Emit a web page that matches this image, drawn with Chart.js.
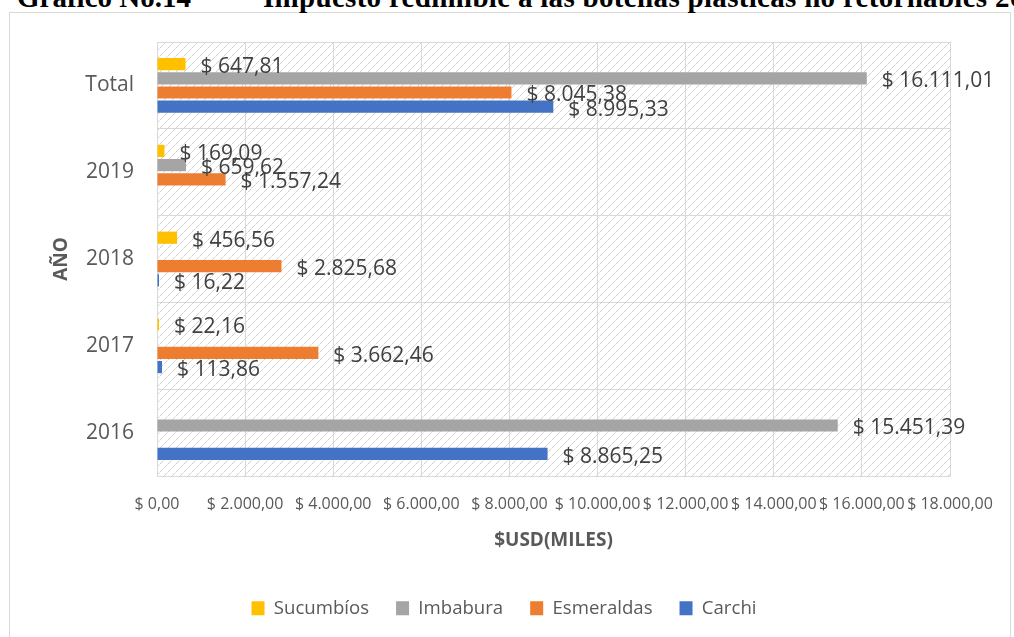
<!DOCTYPE html>
<html><head><meta charset="utf-8">
<script src="https://cdn.jsdelivr.net/npm/chart.js@4/dist/chart.umd.min.js"></script>
<style>
html,body{margin:0;padding:0;background:#fff;overflow:hidden;width:1014px;height:637px;position:relative}
#frame{position:absolute;left:9px;top:12px;width:1000px;height:700px;border:1px solid #d9d9d9;}
.t{position:absolute;top:-17px;font:bold 29px "Liberation Serif";line-height:1;white-space:nowrap;color:#000}
#wrap{position:absolute;left:0;top:0;width:1014px;height:637px}
</style></head><body>
<div id="frame"></div>
<div class="t" style="left:17px">Gráfico No.14</div>
<div class="t" style="left:263px;letter-spacing:0.3px">Impuesto redimible a las botellas plásticas no retornables 2016-2019</div>
<div id="wrap"><canvas id="c" width="1014" height="637"></canvas></div>
<script>
const categories = ['Total', '2019', '2018', '2017', '2016'];
const seriesNames = ['Sucumbíos', 'Imbabura', 'Esmeraldas', 'Carchi'];
const sucumbios  = [647.81, 169.09, 456.56, 22.16, null];
const imbabura   = [16111.01, 659.62, null, null, 15451.39];
const esmeraldas = [8045.38, 1557.24, 2825.68, 3662.46, null];
const carchi     = [8995.33, null, 16.22, 113.86, 8865.25];
const xTickValues = [0, 2000, 4000, 6000, 8000, 10000, 12000, 14000, 16000, 18000];
const colors = ['#FFC000', '#A5A5A5', '#ED7D31', '#4472C4'];

function fmt(v) {
  const s = Number(v).toFixed(2);
  let [i, d] = s.split('.');
  i = i.replace(/\B(?=(\d{3})+(?!\d))/g, '.');
  return '$ ' + i + ',' + d;
}

// hatch pattern for plot area
const tile = document.createElement('canvas');
tile.width = 8; tile.height = 8;
const tc = tile.getContext('2d');
tc.fillStyle = '#ffffff'; tc.fillRect(0, 0, 8, 8);
tc.fillStyle = '#d0d0d0';
for (let k = 0; k < 3; k++) { tc.fillRect(k, 7 - k, 1, 1); tc.fillRect(4 + k, 3 - k, 1, 1); }
tc.fillStyle = '#e6e6e6';
tc.fillRect(3, 4, 1, 1); tc.fillRect(7, 0, 1, 1);
const pattern = tc.createPattern(tile, 'repeat');

const bgPlugin = {
  id: 'bg',
  beforeDraw(chart) {
    const { ctx, chartArea: a } = chart;
    ctx.save();
    ctx.fillStyle = pattern;
    ctx.fillRect(a.left, a.top, a.right - a.left, a.bottom - a.top);
    ctx.restore();
  }
};

const labelPlugin = {
  id: 'vlabels',
  afterDatasetsDraw(chart) {
    const ctx = chart.ctx;
    ctx.save();
    ctx.font = '21px "Open Sans"';
    ctx.fillStyle = '#404040';
    ctx.textAlign = 'left';
    ctx.textBaseline = 'middle';
    chart.data.datasets.forEach((ds, di) => {
      const meta = chart.getDatasetMeta(di);
      meta.data.forEach((el, i) => {
        const v = ds.data[i];
        if (v === null || v === undefined) return;
        ctx.fillText(fmt(v), el.x + 15, el.y + 3);
      });
    });
    ctx.restore();
  }
};

const dataArrays = [sucumbios, imbabura, esmeraldas, carchi];
new Chart(document.getElementById('c'), {
  type: 'bar',
  data: {
    labels: categories,
    datasets: dataArrays.map((d, k) => ({
      label: seriesNames[k],
      data: d,
      backgroundColor: colors[k],
      borderWidth: 0,
      minBarLength: 2,
      categoryPercentage: 0.654,
      barPercentage: 0.86
    }))
  },
  options: {
    indexAxis: 'y',
    responsive: false,
    animation: false,
    layout: { padding: { top: 42, left: 58, right: 64, bottom: 9.4 } },
    scales: {
      x: {
        min: 0, max: 18000,
        afterBuildTicks: s => { s.ticks = xTickValues.map(v => ({ value: v })); },
        grid: { color: '#d9d9d9', drawTicks: false },
        border: { color: '#d9d9d9' },
        ticks: { autoSkip: false, maxRotation: 0, minRotation: 0, padding: 19, color: '#595959',
                 font: { family: 'Open Sans', size: 16 }, callback: v => fmt(v) },
        title: { display: true, text: '$USD(MILES)', color: '#595959',
                 font: { family: 'Open Sans', size: 19, weight: 'bold' }, padding: { top: 0, bottom: 20 } },
        afterFit: s => { s.height = 96; }
      },
      y: {
        grid: { color: '#d9d9d9', drawTicks: false, offset: true },
        border: { color: '#d9d9d9' },
        ticks: { padding: 23, color: '#595959', font: { family: 'Open Sans', size: 21 } },
        title: { display: true, text: 'AÑO', color: '#595959',
                 font: { family: 'Open Sans', size: 19, weight: 'bold' }, padding: { top: -8, bottom: 0 } },
        afterFit: s => { s.width = 99; }
      }
    },
    plugins: {
      legend: { position: 'bottom',
        labels: { boxWidth: 13, boxHeight: 14, padding: 27, color: '#595959',
                  font: { family: 'Open Sans', size: 18.6 } } },
      tooltip: { enabled: false }
    }
  },
  plugins: [bgPlugin, labelPlugin]
});
</script>
</body></html>
